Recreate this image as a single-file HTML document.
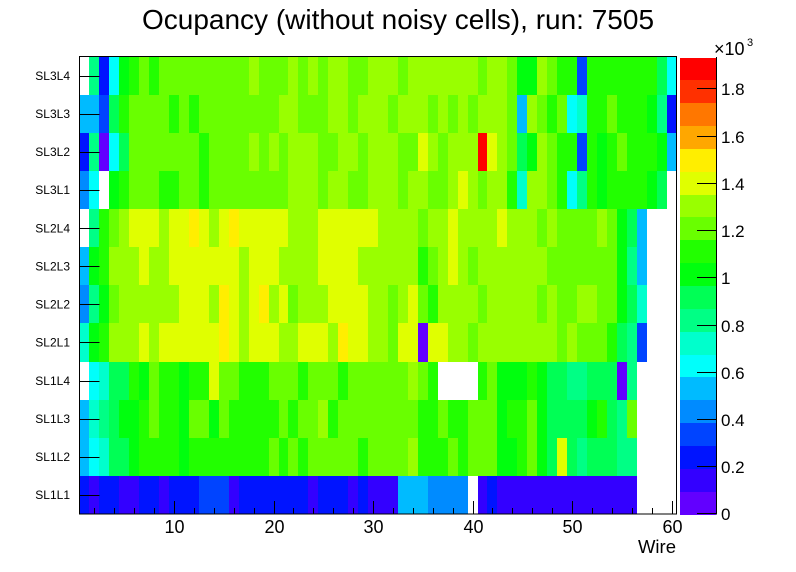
<!DOCTYPE html>
<html>
<head>
<meta charset="utf-8">
<style>
  html,body{margin:0;padding:0;background:#fff;}
  body{width:796px;height:572px;overflow:hidden;}
  svg{display:block;}
  text{font-family:"Liberation Sans", Arial, Helvetica, sans-serif;fill:#000;}
</style>
</head>
<body>
<svg id="s" width="796" height="572" viewBox="0 0 796 572" xmlns="http://www.w3.org/2000/svg">
  <rect x="0" y="0" width="796" height="572" fill="#fff"/>
  <g id="cells" shape-rendering="crispEdges"></g>
  <g id="pal" shape-rendering="crispEdges"></g>
  <rect x="79.5" y="56.5" width="597" height="457.5" fill="none" stroke="#000" stroke-width="1" shape-rendering="crispEdges"/>
  <g id="ticks" stroke="#000" stroke-width="1" shape-rendering="crispEdges"></g>
  <g id="labels"></g>

  <text x="398" y="29" font-size="28" text-anchor="middle">Ocupancy (without noisy cells), run: 7505</text>
  <text x="676" y="553" font-size="18.5" text-anchor="end">Wire</text>
  <text x="714" y="55" font-size="18">×10</text>
  <text x="747" y="46" font-size="11">3</text>
</svg>
<script>
(function(){
  var NS="http://www.w3.org/2000/svg";
  var colors=['#6200ff','#3300ff','#0014ff','#0044ff','#008bff','#00bbff','#00fffb','#00ffcc','#00ff85','#00ff55','#00ff0e','#22ff00','#69ff00','#99ff00','#e0ff00','#ffee00','#ffa700','#ff7700','#ff3000','#ff0000'];
  var rows=[
    ".826abcbcc"+"cccccccdcc"+"cdcdcddccd"+"ddcddddddd"+"cddcaadcbb"+"3bbbbbbb96",
    "5539bccccb"+"cbcccccccc"+"ddcccddcdd"+"dcdddcdcdc"+"dddc5dcbc6"+"7bbcbbba82",
    "28069ccccc"+"ccbccccdcd"+"cdddccddcd"+"ddccedcddd"+"jedc9adcbb"+"3babcbbba5",
    "46.abcccbb"+"ccbccccccc"+"cdddcddccd"+"ddcddccded"+"cddb7ddcb6"+"8babbbba9.",
    ".8bcdeeede"+"efedefeeee"+"edddeeeeee"+"ddddcddedd"+"ddedddcdcc"+"ccdca95...",
    "5abdddedde"+"eeeeeedeee"+"ddddeeeedd"+"ddddbcdedc"+"dddddddccc"+"cccca85...",
    "48acdddddd"+"eeedfedefd"+"ecdddeeeed"+"dcdecbdddd"+"cdddddcdcc"+"ddcca97...",
    "7abdddedee"+"eeeefedeee"+"ddeeedfeed"+"dcee0eeddc"+"ddddddddcd"+"cccb983...",
    ".6799bacbb"+"abbeccbbbc"+"ccbcccbccc"+"cccdcb...."+"bcaaaba998"+"899908....",
    "5789aabcbb"+"accacbbbbb"+"cbccdbcccc"+"ccccbbcbbc"+"ccabbca999"+"9ab98c....",
    "56799abbbb"+"abbbbbbbbc"+"bcbcccccbc"+"cccdbbbcbc"+"ccaabca9e9"+"899988....",
    "2122112212"+"2233312222"+"2221222121"+"115554444."+"1211111111"+"111111...."
  ];
  var names=["SL3L4","SL3L3","SL3L2","SL3L1","SL2L4","SL2L3","SL2L2","SL2L1","SL1L4","SL1L3","SL1L2","SL1L1"];
  var x0=79.5,x1=676.5,y0=56.5,y1=514,nc=60,nr=12;
  var bw=(x1-x0)/nc,bh=(y1-y0)/nr;
  function el(tag,attrs,parent,txt){var e=document.createElementNS(NS,tag);for(var k in attrs)e.setAttribute(k,attrs[k]);if(txt!==undefined)e.textContent=txt;parent.appendChild(e);return e;}
  var cg=document.getElementById('cells');
  for(var r=0;r<nr;r++){
    var s=rows[r];
    var ya=Math.round(y0+r*bh),yb=Math.round(y0+(r+1)*bh);
    var c=0;
    while(c<nc){
      var ch=s.charAt(c),c2=c;
      while(c2<nc&&s.charAt(c2)===ch)c2++;
      if(ch!=='.'){
        var k=parseInt(ch,36);
        var xa=Math.round(x0+c*bw),xb=Math.round(x0+c2*bw);
        el('rect',{x:xa,y:ya,width:xb-xa,height:yb-ya,fill:colors[k]},cg);
      }
      c=c2;
    }
  }
  var pg=document.getElementById('pal');
  var pb=514.5,ph=457/20;
  for(var k=0;k<20;k++){
    var ya=Math.round(pb-(k+1)*ph),yb=Math.round(pb-k*ph);
    el('rect',{x:680,y:ya,width:36,height:yb-ya,fill:colors[k]},pg);
  }
  var tg=document.getElementById('ticks');
  var lg=document.getElementById('labels');
  el('line',{x1:716.5,y1:57,x2:716.5,y2:514.5},tg);
  for(var i=0;i<=9;i++){
    var v=i*0.2;
    var y=Math.round(514.5-v*236.25)-0.5;
    if(i===0)y=513.5;
    el('line',{x1:697,y1:y,x2:716.5,y2:y},tg);
    var lab=(i===0)?"0":(i===5?"1":v.toFixed(1));
    el('text',{x:721,y:y+6.5,'font-size':17},lg,lab);
  }
  for(var r=0;r<nr;r++){
    var yc=y0+(r+0.5)*bh;
    var yl=Math.round(yc)+0.5;
    el('line',{x1:79.5,y1:yl,x2:99.5,y2:yl},tg);
    el('text',{x:70,y:yc+4.3,'font-size':12,'text-anchor':'end'},lg,names[r]);
  }
  for(var w=2;w<=60;w+=2){
    var x=Math.round(x0+(w-0.5)*bw)+0.5;
    var major=(w%10===0);
    el('line',{x1:x,y1:514,x2:x,y2:major?501:508},tg);
    if(major){
      el('text',{x:x,y:533,'font-size':18,'text-anchor':'middle'},lg,String(w));
    }
  }
})();
</script>
</body>
</html>
